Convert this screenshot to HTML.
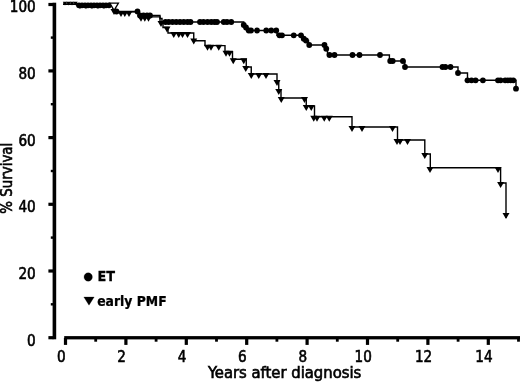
<!DOCTYPE html>
<html><head><meta charset="utf-8"><title>Survival</title>
<style>html,body{margin:0;padding:0;background:#fff}svg{display:block}text{font-family:"DejaVu Sans Condensed","DejaVu Sans","Liberation Sans",sans-serif;fill:#000}</style></head><body>
<svg width="520" height="382" viewBox="0 0 520 382">
<rect width="520" height="382" fill="#fff"/>
<g fill="#000">
<rect x="52.6" y="2.7" width="3.6" height="336.6"/>
<rect x="64.2" y="336.1" width="455.8" height="3.3"/>
<rect x="48.4" y="336.1" width="5" height="3.2"/>
<rect x="50.8" y="303.1" width="3" height="2.4"/>
<rect x="48.4" y="269.4" width="5" height="3.2"/>
<rect x="50.8" y="236.4" width="3" height="2.4"/>
<rect x="48.4" y="202.7" width="5" height="3.2"/>
<rect x="50.8" y="169.8" width="3" height="2.4"/>
<rect x="48.4" y="136.0" width="5" height="3.2"/>
<rect x="50.8" y="103.0" width="3" height="2.4"/>
<rect x="48.4" y="69.3" width="5" height="3.2"/>
<rect x="50.8" y="36.4" width="3" height="2.4"/>
<rect x="48.4" y="2.9" width="5" height="3.2"/>
<rect x="63.9" y="338" width="3.2" height="6.9"/>
<rect x="94.3" y="338" width="2.8" height="3.7"/>
<rect x="124.3" y="338" width="3.2" height="6.9"/>
<rect x="154.7" y="338" width="2.8" height="3.7"/>
<rect x="184.7" y="338" width="3.2" height="6.9"/>
<rect x="215.1" y="338" width="2.8" height="3.7"/>
<rect x="245.1" y="338" width="3.2" height="6.9"/>
<rect x="275.5" y="338" width="2.8" height="3.7"/>
<rect x="305.5" y="338" width="3.2" height="6.9"/>
<rect x="335.9" y="338" width="2.8" height="3.7"/>
<rect x="365.9" y="338" width="3.2" height="6.9"/>
<rect x="396.3" y="338" width="2.8" height="3.7"/>
<rect x="426.3" y="338" width="3.2" height="6.9"/>
<rect x="456.7" y="338" width="2.8" height="3.7"/>
<rect x="486.7" y="338" width="3.2" height="6.9"/>
<rect x="517.1" y="338" width="2.8" height="3.7"/>
</g>
<g font-size="16" stroke="#000" stroke-width="0.6">
<text transform="translate(35.7,345.7) scale(0.91,1)" text-anchor="end" font-size="16.6">0</text>
<text transform="translate(35.7,279.0) scale(0.91,1)" text-anchor="end" font-size="16.6">20</text>
<text transform="translate(35.7,212.3) scale(0.91,1)" text-anchor="end" font-size="16.6">40</text>
<text transform="translate(35.7,145.6) scale(0.91,1)" text-anchor="end" font-size="16.6">60</text>
<text transform="translate(35.7,78.9) scale(0.91,1)" text-anchor="end" font-size="16.6">80</text>
<text transform="translate(35.7,12.2) scale(0.91,1)" text-anchor="end" font-size="16.6">100</text>
<text transform="translate(61.2,362.2) scale(0.91,1)" text-anchor="middle" font-size="16.6">0</text>
<text transform="translate(121.6,362.2) scale(0.91,1)" text-anchor="middle" font-size="16.6">2</text>
<text transform="translate(182.0,362.2) scale(0.91,1)" text-anchor="middle" font-size="16.6">4</text>
<text transform="translate(242.4,362.2) scale(0.91,1)" text-anchor="middle" font-size="16.6">6</text>
<text transform="translate(302.8,362.2) scale(0.91,1)" text-anchor="middle" font-size="16.6">8</text>
<text transform="translate(363.2,362.2) scale(0.91,1)" text-anchor="middle" font-size="16.6">10</text>
<text transform="translate(423.6,362.2) scale(0.91,1)" text-anchor="middle" font-size="16.6">12</text>
<text transform="translate(484.0,362.2) scale(0.91,1)" text-anchor="middle" font-size="16.6">14</text>
<text transform="translate(284.6,378.2) scale(1.03,1)" text-anchor="middle">Years after diagnosis</text>
<text transform="translate(12.4,178.2) rotate(-90) scale(0.93,1)" text-anchor="middle">% Survival</text>
</g>
<g font-size="13.6" font-weight="bold" stroke="#000" stroke-width="0.25">
<circle cx="88.2" cy="277" r="4.2"/>
<text transform="translate(97.5,281.2) scale(1.05,1)" text-anchor="start">ET</text>
<path d="M83.8 297h10.4l-5.2 8.2z"/>
<text transform="translate(97.2,305.7) scale(1.015,1)" text-anchor="start">early PMF</text>
</g>
<g fill="none" stroke="#000" stroke-width="1.4"><path d="M63 4.2L78 4.2L78 5.3L113 5.3L113 8L115 8L115 11.5L138.75 11.5L138.75 15.5L160 15.5L160 18.5L162 18.5L162 22L243.75 22L243.75 25L245 25L245 27.5L246.5 27.5L246.5 30.5L277 30.5L277 35.3L302.5 35.3L302.5 38.75L305.5 38.75L305.5 40.5L308.5 40.5L308.5 45L325 45L325 48.75L327.5 48.75L327.5 55L389.4 55L389.4 61L404.8 61L404.8 67L458 67L458 73L467.5 73L467.5 80.3L516 80.3L516 88.7"/><path d="M63 4.2L78 4.2L78 5.3L113 5.3L113 8L115 8L115 11.8L138.75 11.8L138.75 16.9L160 16.9L160 22L163 22L163 27.5L168 27.5L168 33L193.75 33L193.75 40.8L205 40.8L205 45.6L225 45.6L225 51.6L232.5 51.6L232.5 59.25L246.25 59.25L246.25 67L251.25 67L251.25 74L277 74L277 81L278.75 81L278.75 90L281 90L281 98L306.25 98L306.25 105.9L314.5 105.9L314.5 116.75L352 116.75L352 127L397.5 127L397.5 140L424.8 140L424.8 154L430.3 154L430.3 167.8L500.6 167.8L500.6 183L506 183L506 218"/></g>
<g>
<circle cx="79" cy="5.3" r="2.9"/>
<circle cx="82" cy="5.3" r="2.9"/>
<circle cx="85" cy="5.3" r="2.9"/>
<circle cx="88" cy="5.3" r="2.9"/>
<circle cx="91" cy="5.3" r="2.9"/>
<circle cx="94" cy="5.3" r="2.9"/>
<circle cx="97" cy="5.3" r="2.9"/>
<circle cx="100" cy="5.3" r="2.9"/>
<circle cx="103" cy="5.3" r="2.9"/>
<circle cx="106" cy="5.3" r="2.9"/>
<circle cx="109" cy="5.3" r="2.9"/>
<circle cx="116.5" cy="11.5" r="2.9"/>
<circle cx="137.5" cy="11.5" r="2.9"/>
<circle cx="140" cy="15.5" r="2.9"/>
<circle cx="143.5" cy="15.5" r="2.9"/>
<circle cx="147" cy="15.5" r="2.9"/>
<circle cx="150" cy="15.5" r="2.9"/>
<circle cx="165.5" cy="22" r="2.9"/>
<circle cx="168.75" cy="22" r="2.9"/>
<circle cx="172.5" cy="22" r="2.9"/>
<circle cx="176.25" cy="22" r="2.9"/>
<circle cx="180" cy="22" r="2.9"/>
<circle cx="183.75" cy="22" r="2.9"/>
<circle cx="187.5" cy="22" r="2.9"/>
<circle cx="190.5" cy="22" r="2.9"/>
<circle cx="200" cy="22" r="2.9"/>
<circle cx="203.5" cy="22" r="2.9"/>
<circle cx="207.5" cy="22" r="2.9"/>
<circle cx="211.25" cy="22" r="2.9"/>
<circle cx="214.5" cy="22" r="2.9"/>
<circle cx="217" cy="22" r="2.9"/>
<circle cx="223.75" cy="22" r="2.9"/>
<circle cx="227" cy="22" r="2.9"/>
<circle cx="231.25" cy="22" r="2.9"/>
<circle cx="243.75" cy="25" r="2.9"/>
<circle cx="246" cy="27.5" r="2.9"/>
<circle cx="248.75" cy="30.5" r="2.9"/>
<circle cx="251" cy="30.5" r="2.9"/>
<circle cx="257" cy="30.5" r="2.9"/>
<circle cx="266.25" cy="30.5" r="2.9"/>
<circle cx="271.25" cy="30.5" r="2.9"/>
<circle cx="276.25" cy="30.5" r="2.9"/>
<circle cx="279.5" cy="35.3" r="2.9"/>
<circle cx="282" cy="35.3" r="2.9"/>
<circle cx="293.75" cy="35.3" r="2.9"/>
<circle cx="301" cy="35.3" r="2.9"/>
<circle cx="303.75" cy="38.75" r="2.9"/>
<circle cx="306" cy="40.5" r="2.9"/>
<circle cx="309.25" cy="45" r="2.9"/>
<circle cx="324.5" cy="45" r="2.9"/>
<circle cx="326.25" cy="48.75" r="2.9"/>
<circle cx="329.5" cy="55" r="2.9"/>
<circle cx="334.5" cy="55" r="2.9"/>
<circle cx="352.5" cy="55" r="2.9"/>
<circle cx="359.5" cy="55" r="2.9"/>
<circle cx="380" cy="55" r="2.9"/>
<circle cx="390.2" cy="61" r="2.9"/>
<circle cx="392.7" cy="61" r="2.9"/>
<circle cx="402.9" cy="61" r="2.9"/>
<circle cx="405" cy="67" r="2.9"/>
<circle cx="442.5" cy="67" r="2.9"/>
<circle cx="445.4" cy="67" r="2.9"/>
<circle cx="450.5" cy="67" r="2.9"/>
<circle cx="458" cy="73" r="2.9"/>
<circle cx="467.5" cy="80.3" r="2.9"/>
<circle cx="471.5" cy="80.3" r="2.9"/>
<circle cx="475.6" cy="80.3" r="2.9"/>
<circle cx="482.9" cy="80.3" r="2.9"/>
<circle cx="498" cy="80.3" r="2.9"/>
<circle cx="500.6" cy="80.3" r="2.9"/>
<circle cx="505.2" cy="80.3" r="2.9"/>
<circle cx="507.9" cy="80.3" r="2.9"/>
<circle cx="510.6" cy="80.3" r="2.9"/>
<circle cx="513.3" cy="80.3" r="2.9"/>
<circle cx="516" cy="88.7" r="2.9"/>
</g>
<path d="M109.8 3.2h8.6l-4.3 7.2z" fill="#fff" stroke="#000" stroke-width="1.3"/>
<g>
<path d="M62.80 1.80h4.4l-2.2 3.6z"/>
<path d="M66.30 1.80h4.4l-2.2 3.6z"/>
<path d="M69.80 1.80h4.4l-2.2 3.6z"/>
<path d="M73.30 1.80h4.4l-2.2 3.6z"/>
<path d="M76.50 3.30h7l-3.5 6z"/>
<path d="M82.50 3.30h7l-3.5 6z"/>
<path d="M88.50 3.30h7l-3.5 6z"/>
<path d="M94.50 3.30h7l-3.5 6z"/>
<path d="M100.50 3.30h7l-3.5 6z"/>
<path d="M110.50 8.90h7l-3.5 6z"/>
<path d="M117.50 10.90h7l-3.5 6z"/>
<path d="M121.30 10.90h7l-3.5 6z"/>
<path d="M125.50 10.90h7l-3.5 6z"/>
<path d="M137.50 15.70h7l-3.5 6z"/>
<path d="M141.30 15.70h7l-3.5 6z"/>
<path d="M145.00 15.70h7l-3.5 6z"/>
<path d="M157.50 21.10h7l-3.5 6z"/>
<path d="M163.50 26.60h7l-3.5 6z"/>
<path d="M170.25 32.10h7l-3.5 6z"/>
<path d="M175.25 32.10h7l-3.5 6z"/>
<path d="M179.00 32.10h7l-3.5 6z"/>
<path d="M184.00 32.10h7l-3.5 6z"/>
<path d="M190.25 38.40h7l-3.5 6z"/>
<path d="M204.00 44.70h7l-3.5 6z"/>
<path d="M207.50 44.70h7l-3.5 6z"/>
<path d="M215.25 44.70h7l-3.5 6z"/>
<path d="M222.50 50.70h7l-3.5 6z"/>
<path d="M226.00 50.70h7l-3.5 6z"/>
<path d="M229.75 58.35h7l-3.5 6z"/>
<path d="M240.25 58.35h7l-3.5 6z"/>
<path d="M242.25 66.10h7l-3.5 6z"/>
<path d="M247.75 73.10h7l-3.5 6z"/>
<path d="M255.25 73.10h7l-3.5 6z"/>
<path d="M262.50 73.10h7l-3.5 6z"/>
<path d="M273.50 80.10h7l-3.5 6z"/>
<path d="M275.25 89.10h7l-3.5 6z"/>
<path d="M277.75 97.10h7l-3.5 6z"/>
<path d="M301.00 97.10h7l-3.5 6z"/>
<path d="M302.75 105.00h7l-3.5 6z"/>
<path d="M307.75 105.00h7l-3.5 6z"/>
<path d="M310.25 115.85h7l-3.5 6z"/>
<path d="M313.50 115.85h7l-3.5 6z"/>
<path d="M320.75 115.85h7l-3.5 6z"/>
<path d="M325.75 115.85h7l-3.5 6z"/>
<path d="M348.50 126.10h7l-3.5 6z"/>
<path d="M358.50 126.10h7l-3.5 6z"/>
<path d="M389.00 126.10h7l-3.5 6z"/>
<path d="M393.50 139.10h7l-3.5 6z"/>
<path d="M396.50 139.10h7l-3.5 6z"/>
<path d="M404.00 139.10h7l-3.5 6z"/>
<path d="M421.30 153.10h7l-3.5 6z"/>
<path d="M426.50 166.90h7l-3.5 6z"/>
<path d="M494.50 166.90h7l-3.5 6z"/>
<path d="M497.10 182.10h7l-3.5 6z"/>
<path d="M502.50 213.10h7l-3.5 6z"/>
</g>
</svg></body></html>
